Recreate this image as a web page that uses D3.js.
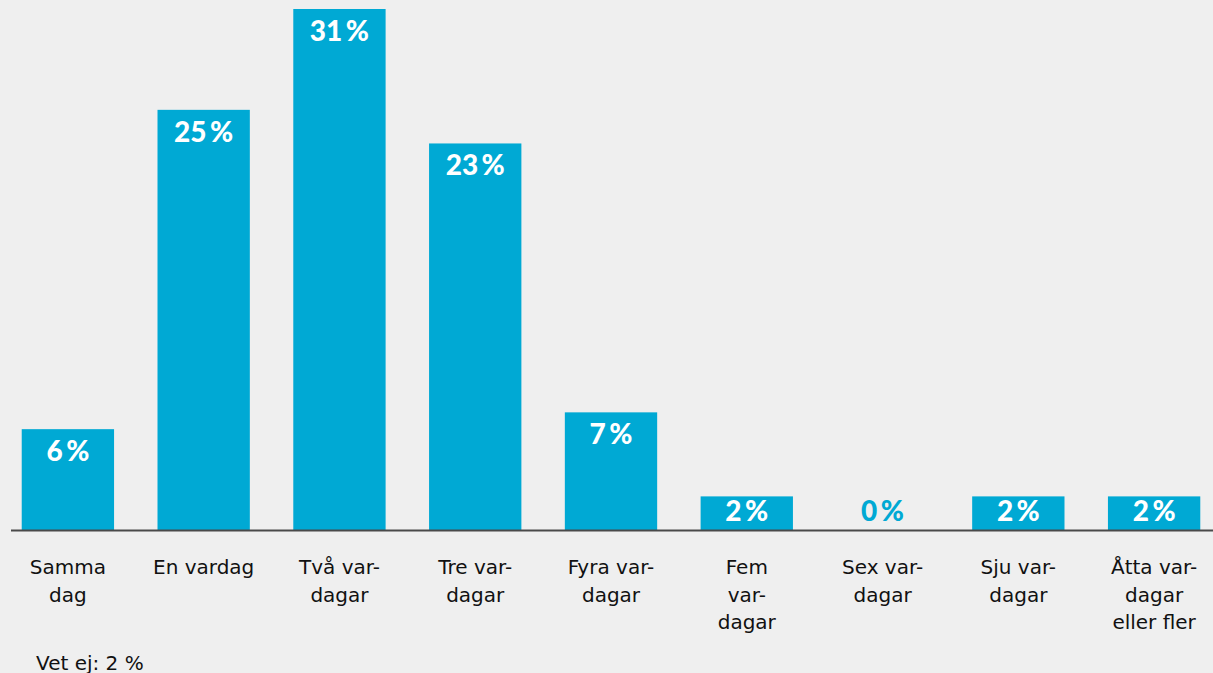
<!DOCTYPE html>
<html>
<head>
<meta charset="utf-8">
<script src="https://cdn.jsdelivr.net/npm/d3@7"></script>
<style>
  html, body { margin: 0; padding: 0; background: #efefef; }
  svg { display: block; }
</style>
</head>
<body>
<svg id="chart" width="1213" height="673"></svg>
<script>
// data
const categories = ["Samma dag", "En vardag", "Två vardagar", "Tre vardagar", "Fyra vardagar",
  "Fem vardagar", "Sex vardagar", "Sju vardagar", "Åtta vardagar eller fler"];
const labelLines = [
  ["Samma", "dag"],
  ["En vardag"],
  ["Två var-", "dagar"],
  ["Tre var-", "dagar"],
  ["Fyra var-", "dagar"],
  ["Fem", "var-", "dagar"],
  ["Sex var-", "dagar"],
  ["Sju var-", "dagar"],
  ["Åtta var-", "dagar", "eller fler"]
];
const values = [6, 25, 31, 23, 7, 2, 0, 2, 2];
const note = "Vet ej: 2 %";

const barColor = "#00a9d4";
const width = 1213, height = 673;
const baseline = 530;

const svg = d3.select("#chart");

const x = d3.scaleBand()
  .domain(categories)
  .range([0, 1222])
  .paddingInner(0.32)
  .paddingOuter(0.16);

const y = d3.scaleLinear()
  .domain([0, 31])
  .range([baseline, 9]);

const data = categories.map((c, i) => ({ cat: c, value: values[i], lines: labelLines[i] }));

svg.append("g")
  .selectAll("rect")
  .data(data)
  .enter()
  .append("rect")
    .attr("x", d => x(d.cat))
    .attr("y", d => y(d.value))
    .attr("width", x.bandwidth())
    .attr("height", d => baseline - y(d.value))
    .attr("fill", barColor);

// value labels, inside the bar top
svg.append("g")
  .selectAll("text")
  .data(data)
  .enter()
  .append("text")
    .attr("x", d => x(d.cat) + x.bandwidth() / 2)
    .attr("y", d => Math.min(y(d.value) + 32, 521))
    .attr("text-anchor", "middle")
    .attr("font-family", "Lato, sans-serif")
    .attr("font-weight", 900)
    .attr("font-size", 28)
    .attr("fill", d => d.value === 0 ? barColor : "#fff")
    .text(d => d.value + "\u2009%");

// baseline
svg.append("line")
  .attr("x1", 11)
  .attr("x2", width)
  .attr("y1", baseline + 0.5)
  .attr("y2", baseline + 0.5)
  .attr("stroke", "#4a4a4a")
  .attr("stroke-width", 2);

// category labels
const cats = svg.append("g")
  .selectAll("text")
  .data(data)
  .enter()
  .append("text")
    .attr("x", d => x(d.cat) + x.bandwidth() / 2)
    .attr("y", 574)
    .attr("text-anchor", "middle")
    .attr("font-family", "'DejaVu Sans', sans-serif")
    .attr("font-size", 20)
    .attr("fill", "#111");

cats.selectAll("tspan")
  .data(d => d.lines)
  .enter()
  .append("tspan")
    .attr("x", function () { return d3.select(this.parentNode).attr("x"); })
    .attr("dy", (d, i) => i === 0 ? 0 : 27.5)
    .text(d => d);

svg.append("text")
  .attr("x", 36)
  .attr("y", 670)
  .attr("font-family", "'DejaVu Sans', sans-serif")
  .attr("font-size", 20)
  .attr("fill", "#111")
  .text(note);
</script>
</body>
</html>
